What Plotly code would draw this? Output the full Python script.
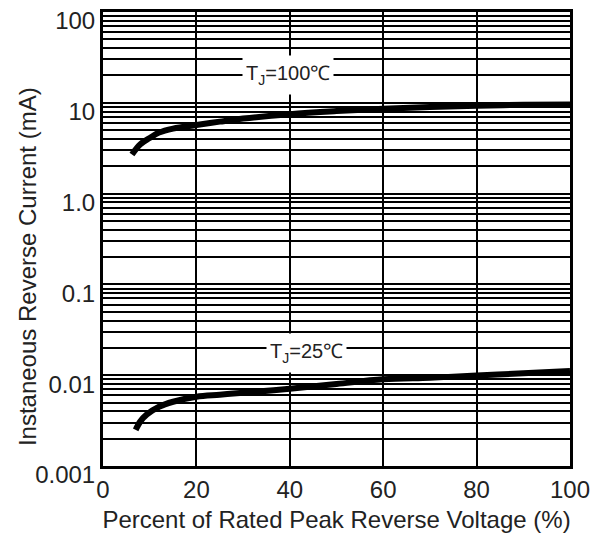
import math
import plotly.graph_objects as go

# Data
pct_100 = [6.2, 8, 10, 12, 15, 20, 25, 30, 40, 50, 60, 70, 80, 90, 100]
cur_100 = [2.7, 3.5, 4.1, 4.7, 5.2, 5.7, 6.2, 6.7, 7.5, 8.1, 8.6, 9.0, 9.3, 9.5, 9.6]

pct_25 = [7, 8, 9.4, 12, 15, 20, 25, 30, 40, 50, 60, 70, 80, 90, 100]
cur_25 = [0.0025, 0.0031, 0.0037, 0.0045, 0.0051, 0.0058, 0.0061, 0.0064, 0.0071, 0.0080, 0.0090, 0.0094, 0.0099, 0.0105, 0.0111]

x_ticks = [0, 20, 40, 60, 80, 100]
decades = [0.001, 0.01, 0.1, 1, 10, 100]
decade_labels = ["0.001", "0.01", "0.1", "1.0", "10", "100"]

label_100 = {"x": 39.7, "y": 20, "text": "T<sub>J</sub>=100\u2103"}
label_25 = {"x": 43.6, "y": 0.0175, "text": "T<sub>J</sub>=25\u2103"}

x_title = "Percent of Rated Peak Reverse Voltage (%)"
y_title = "Instaneous Reverse Current (mA)"

# log gridlines at 1..9 of each decade
y_vals, y_text = [], []
for d, lab in zip(decades[:-1], decade_labels[:-1]):
    for m in range(1, 10):
        y_vals.append(d * m)
        y_text.append(lab if m == 1 else "")
y_vals.append(decades[-1])
y_text.append(decade_labels[-1])

FONT = "Liberation Sans, Arial, sans-serif"

fig = go.Figure()
for xs, ys in [(pct_100, cur_100), (pct_25, cur_25)]:
    fig.add_trace(go.Scatter(x=xs, y=ys, mode="lines",
                             line=dict(color="black", width=6, shape="spline"),
                             showlegend=False, hoverinfo="skip"))

for lab in (label_100, label_25):
    fig.add_annotation(x=lab["x"], y=math.log10(lab["y"]), xref="x", yref="y",
                       xanchor="center", yanchor="middle",
                       text=lab["text"], showarrow=False, bgcolor="white",
                       borderpad=3, height=32,
                       font=dict(family=FONT, size=20, color="#222"))

fig.add_annotation(x=-0.163, y=0.44, xref="paper", yref="paper",
                   xanchor="center", yanchor="middle", textangle=-90,
                   text=y_title, showarrow=False,
                   font=dict(family=FONT, size=24, color="#222"))

fig.update_layout(
    width=601, height=543,
    margin=dict(l=103, r=31, t=12, b=77, autoexpand=False),
    paper_bgcolor="white", plot_bgcolor="white",
    font=dict(family=FONT, size=24, color="#222"),
    xaxis=dict(range=[0, 100], tickvals=x_ticks, ticktext=[str(v) for v in x_ticks],
               showgrid=True, gridcolor="black", gridwidth=2,
               showline=True, linecolor="black", linewidth=3, mirror=True,
               ticks="", zeroline=False, tickfont=dict(size=24), automargin=False,
               title=dict(text=x_title, font=dict(size=24), standoff=10)),
    yaxis=dict(type="log", range=[-3, 2], tickvals=y_vals, ticktext=y_text,
               showgrid=True, gridcolor="black", gridwidth=2,
               showline=True, linecolor="black", linewidth=3, mirror=True,
               ticks="", zeroline=False, tickfont=dict(size=24), automargin=False,
               ticklabelshift=9),
)

fig.write_html("out.html")
